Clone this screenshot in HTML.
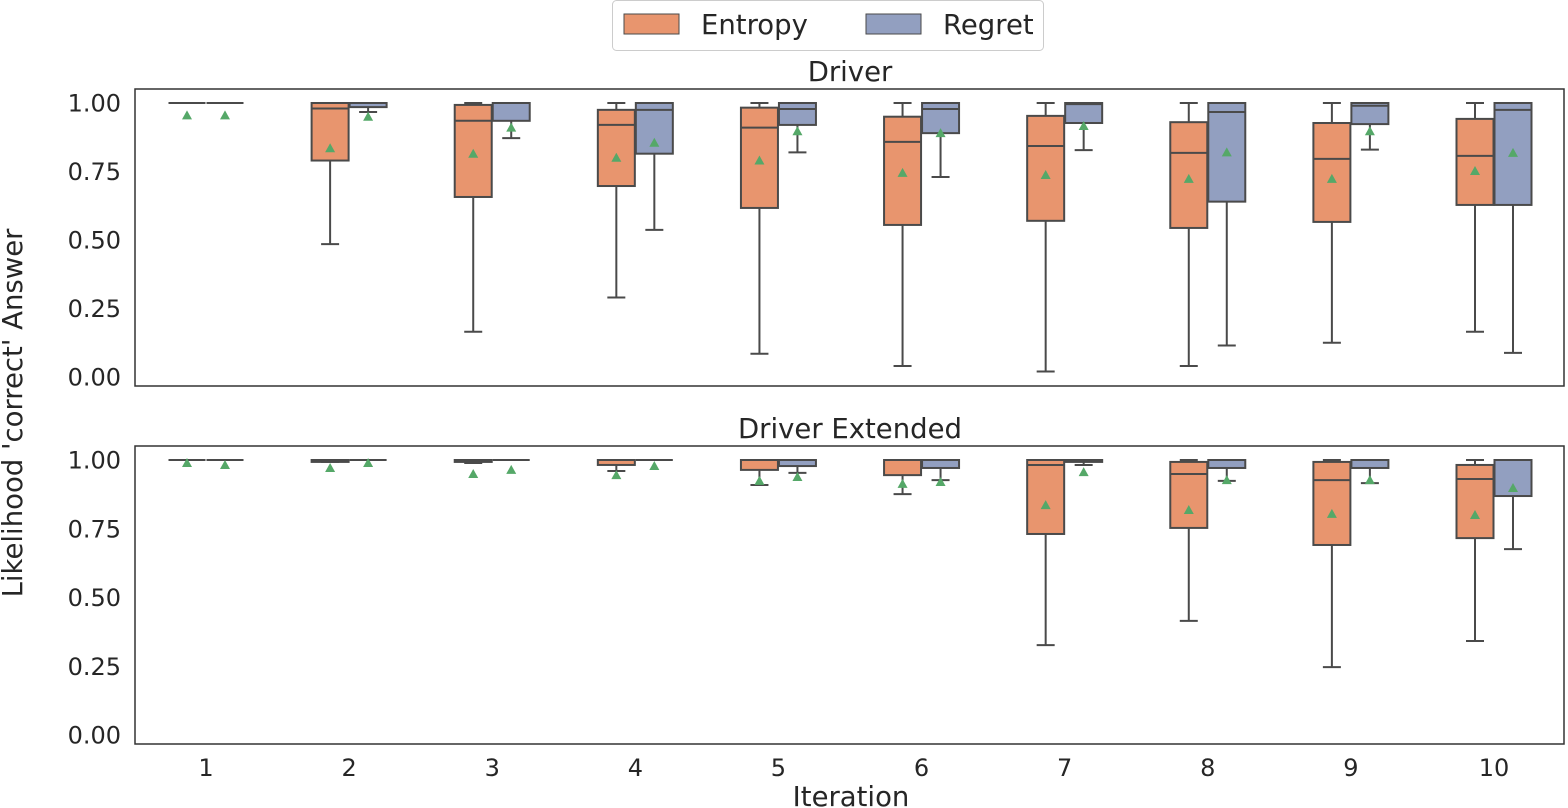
<!DOCTYPE html>
<html><head><meta charset="utf-8"><style>
html,body{margin:0;padding:0;background:#fff}
svg{display:block;font-family:"DejaVu Sans","Liberation Sans",sans-serif}
</style></head><body>
<svg id="chart" width="1568" height="808" viewBox="0 0 1568 808">
<g id="legend">
<rect x="612.5" y="0.5" width="431" height="50" rx="4" fill="#fff" stroke="#ccc"/>
<g><rect x="624" y="14" width="55" height="20" fill="#e8956e" stroke="#4a4a4a"/><text x="701" y="34" font-size="27.5" fill="#262626">Entropy</text></g>
<g><rect x="866" y="14" width="55" height="20" fill="#929fc0" stroke="#4a4a4a"/><text x="943" y="34" font-size="27.5" fill="#262626">Regret</text></g>
</g>
<text transform="translate(22,413) rotate(-90)" text-anchor="middle" font-size="27.5" fill="#262626">Likelihood 'correct' Answer</text>
<text x="851" y="806" text-anchor="middle" font-size="27.5" fill="#262626">Iteration</text>
<g id="panels"></g>
</svg>
<script>
const categories=[1,2,3,4,5,6,7,8,9,10];
const yTicks=[0,0.25,0.5,0.75,1.0];
const yTickLabels=["0.00","0.25","0.50","0.75","1.00"];
const panelTitles=["Driver","Driver Extended"];
// [whislo,q1,med,q3,whishi]
const driverEntropy=[[1,1,1,1,1],[0.485,0.79,0.98,1,1],[0.165,0.657,0.935,0.993,1],[0.29,0.697,0.92,0.975,1],[0.085,0.617,0.91,0.983,1],[0.04,0.555,0.858,0.95,1],[0.02,0.57,0.843,0.953,1],[0.04,0.544,0.818,0.93,1],[0.125,0.566,0.796,0.927,1],[0.165,0.628,0.807,0.942,1]];
const driverEntropyMean=[0.955,0.835,0.815,0.80,0.79,0.745,0.737,0.723,0.723,0.752];
const driverRegret=[[1,1,1,1,1],[0.967,0.985,1,1,1],[0.872,0.935,1,1,1],[0.537,0.815,0.975,1,1],[0.82,0.92,0.978,1,1],[0.73,0.89,0.978,1,1],[0.828,0.927,0.996,1,1],[0.115,0.64,0.967,1,1],[0.83,0.923,0.99,1,1],[0.088,0.628,0.975,1,1]];
const driverRegretMean=[0.955,0.95,0.91,0.855,0.897,0.89,0.916,0.82,0.897,0.818];
const extEntropy=[[1,1,1,1,1],[0.993,0.993,1,1,1],[0.989,0.993,1,1,1],[0.96,0.982,1,1,1],[0.909,0.964,1,1,1],[0.876,0.945,1,1,1],[0.327,0.731,0.982,1,1],[0.415,0.753,0.949,0.993,1],[0.247,0.691,0.927,0.993,1],[0.342,0.716,0.931,0.982,1]];
const extEntropyMean=[0.989,0.971,0.949,0.945,0.924,0.913,0.836,0.818,0.804,0.80];
const extRegret=[[1,1,1,1,1],[1,1,1,1,1],[1,1,1,1,1],[1,1,1,1,1],[0.953,0.978,1,1,1],[0.927,0.971,1,1,1],[0.982,0.993,1,1,1],[0.924,0.971,1,1,1],[0.916,0.971,1,1,1],[0.676,0.869,1,1,1]];
const extRegretMean=[0.982,0.989,0.964,0.978,0.938,0.92,0.956,0.927,0.927,0.898];

const NS="http://www.w3.org/2000/svg";
const root=document.getElementById('panels');
function mk(tag,attrs,parent){const e=document.createElementNS(NS,tag);for(const k in attrs)e.setAttribute(k,attrs[k]);parent.appendChild(e);return e;}
const xScale=i=>206+(i)*(1494-206)/9;
const panels=[
 {top:89,bottom:386,y1:103,y0:377,title:panelTitles[0],E:driverEntropy,Em:driverEntropyMean,R:driverRegret,Rm:driverRegretMean,xlabels:false,name:'driver'},
 {top:446,bottom:744,y1:460,y0:735,title:panelTitles[1],E:extEntropy,Em:extEntropyMean,R:extRegret,Rm:extRegretMean,xlabels:true,name:'driver-extended'}];
const edge="#4a4a4a";
panels.forEach(p=>{
 const g=mk('g',{},root);
 
 
 const y=v=>p.y0+(p.y1-p.y0)*v;
 const t=mk('text',{x:850,y:p.top-8,'text-anchor':'middle','font-size':27.5,fill:'#262626'},g);t.textContent=p.title;
 
 
 yTicks.forEach((v,i)=>{const tt=mk('text',{x:121,y:y(v)+8.5,'text-anchor':'end','font-size':24,fill:'#262626'},g);tt.textContent=yTickLabels[i];
  
  });
 if(p.xlabels)categories.forEach((c,i)=>{const tt=mk('text',{x:xScale(i),y:p.bottom+32,'text-anchor':'middle','font-size':24,fill:'#262626'},g);tt.textContent=c;
  
  });
 const draw=(data,means,off,fill,series)=>{
  data.forEach((d,i)=>{
   const cx=xScale(i)+off, w=37;
   const bg=mk('g',{},g);
   
   
   mk('line',{x1:cx,x2:cx,y1:y(d[0]),y2:y(d[1]),stroke:edge,'stroke-width':2},bg);
   mk('line',{x1:cx,x2:cx,y1:y(d[3]),y2:y(d[4]),stroke:edge,'stroke-width':2},bg);
   mk('line',{x1:cx-9,x2:cx+9,y1:y(d[0]),y2:y(d[0]),stroke:edge,'stroke-width':2},bg);
   mk('line',{x1:cx-9,x2:cx+9,y1:y(d[4]),y2:y(d[4]),stroke:edge,'stroke-width':2},bg);
   mk('rect',{x:cx-w/2,y:y(d[3]),width:w,height:Math.max(0,y(d[1])-y(d[3])),fill:fill,stroke:edge,'stroke-width':2},bg);
   mk('line',{x1:cx-w/2,x2:cx+w/2,y1:y(d[2]),y2:y(d[2]),stroke:edge,'stroke-width':2},bg);
   const my=y(means[i]);
   const m=mk('polygon',{points:`${cx},${my-5} ${cx-5},${my+4} ${cx+5},${my+4}`,fill:'#55a868'},bg);
   
   
  });
 };
 draw(p.E,p.Em,-19,'#e8956e','entropy');
 draw(p.R,p.Rm,19,'#929fc0','regret');
 const fr=mk('rect',{x:135,y:p.top,width:1429,height:p.bottom-p.top,fill:'none',stroke:'#333','stroke-width':1.5},g);
 
 
});
</script>
</body></html>
